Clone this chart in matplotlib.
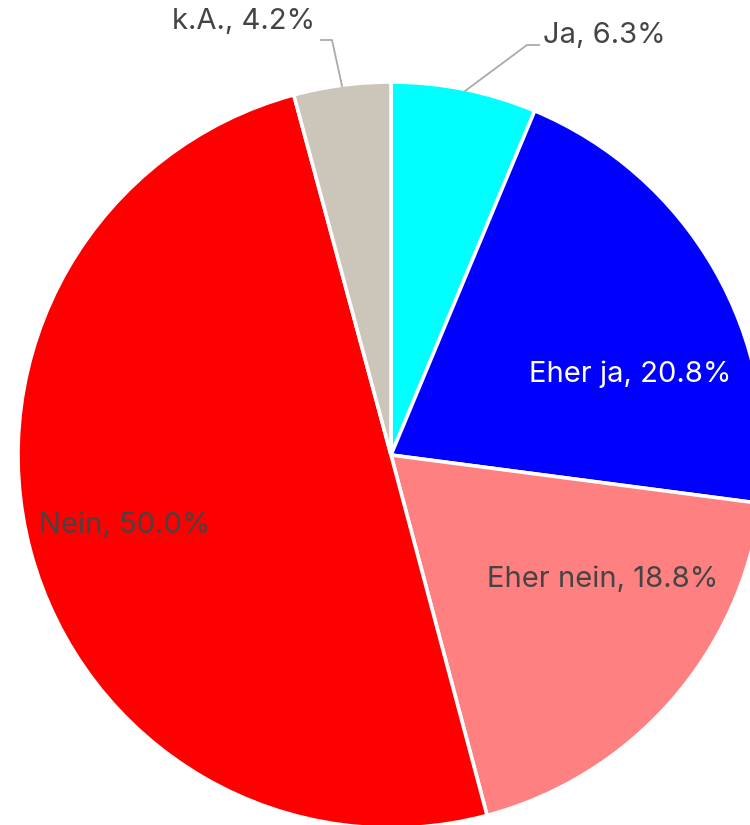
import matplotlib
matplotlib.use("Agg")
import matplotlib.pyplot as plt

# answer shares in percent, clockwise from 12 o'clock
labels = ["Ja", "Eher ja", "Eher nein", "Nein", "k.A."]
shares = [6.3, 20.8, 18.8, 50.0, 4.2]
colors = ["#00FFFF", "#0000FF", "#FF8080", "#FF0000", "#CCC5B9"]

W, H = 750, 825
CX, CY, R = 391, 455, 373

plt.rcParams['font.family'] = ['Inter', 'DejaVu Sans']

fig = plt.figure(figsize=(W / 100, H / 100), dpi=100)
ax = fig.add_axes([0, 0, 1, 1])

ax.pie(shares, colors=colors, startangle=90, counterclock=False,
       center=(CX, H - CY), radius=R,
       wedgeprops=dict(edgecolor='white', linewidth=2.6))

# pie() resets the limits, so set them afterwards
ax.set_xlim(0, W)
ax.set_ylim(0, H)
ax.set_aspect('equal')
ax.axis('off')

texts = [f"{l}, {s:.1f}%" for l, s in zip(labels, shares)]
dark = "#444444"
fs = 21

# inside labels
ax.text(630, H - 374, texts[1], color='white', fontsize=fs, ha='center', va='center')
ax.text(603, H - 580, texts[2], color=dark, fontsize=fs, ha='center', va='center')
ax.text(125, H - 525, texts[3], color=dark, fontsize=fs, ha='center', va='center')

# outside labels with leader lines
line_kw = dict(color='#AAAAAA', linewidth=1.3)
ax.plot([465, 527, 539], [H - 91, H - 45, H - 45], **line_kw)
ax.text(543, H - 35, texts[0], color=dark, fontsize=fs, ha='left', va='center')
ax.plot([342, 332, 321], [H - 86, H - 40, H - 40], **line_kw)
ax.text(315, H - 22, texts[4], color=dark, fontsize=fs, ha='right', va='center')

fig.savefig("out.png", dpi=100)
